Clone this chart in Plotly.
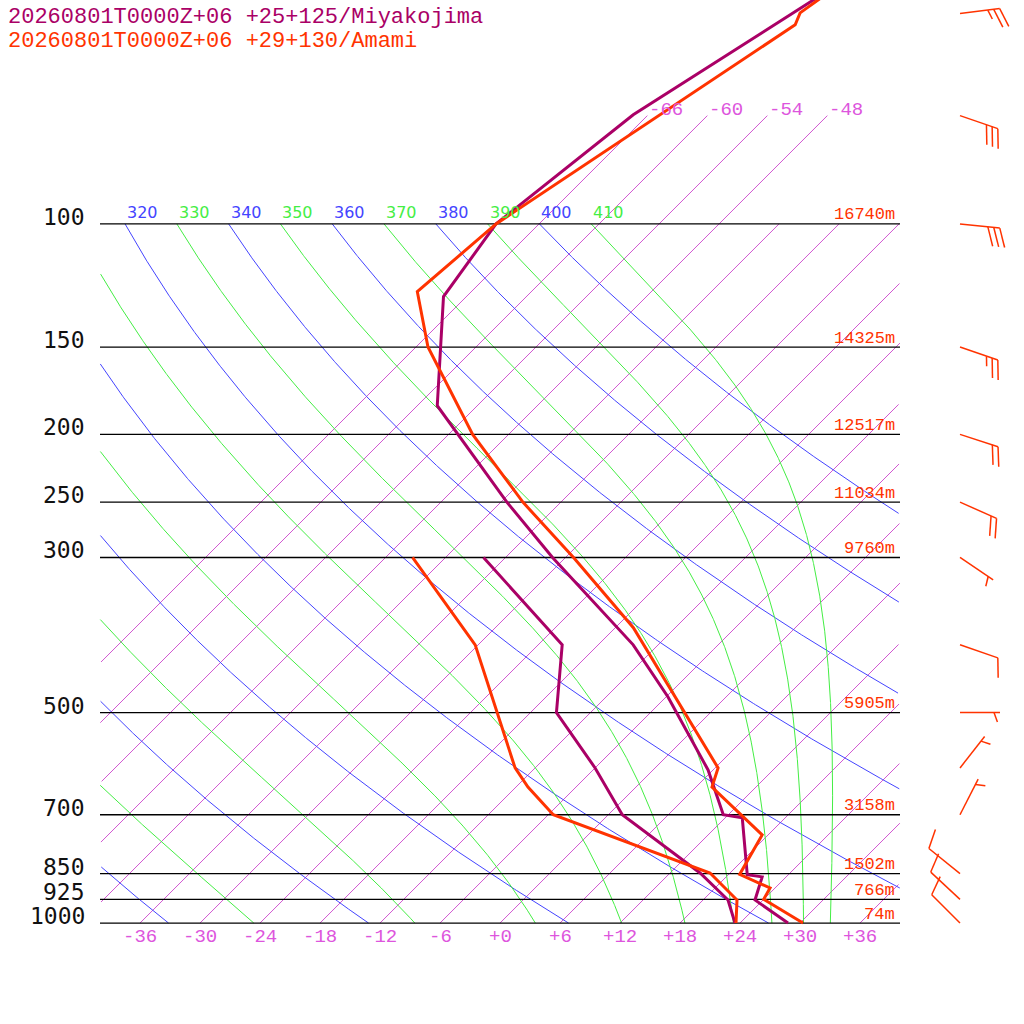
import numpy as np
import plotly.graph_objects as go

# ---------------- data ----------------
miya_T_p = [1000, 927, 859, 853, 707, 700, 604, 475, 400, 300, 250, 182, 127, 100, 69.8, 47.8, 46.3]
miya_T = [28.8, 23.2, 21.6, 19.9, 13.7, 11.5, 5.5, -5.8, -14.5, -31.3, -41.4, -58.0, -68.3, -70.3, -67.5, -61.0, -60.4]
miya_Td_p = [1000, 927, 848, 700, 600, 500, 400, 300]
miya_Td = [23.5, 20.5, 15.0, 1.4, -6.0, -15.4, -21.6, -38.2]

amami_T_p = [1000, 925, 891, 852, 748, 700, 639, 600, 467, 378, 300, 250, 200, 150, 125, 100, 51.9, 49.9, 46.3]
amami_T = [30.3, 24.0, 23.5, 19.1, 17.4, 13.3, 7.6, 6.3, -5.9, -16.2, -29.2, -39.8, -51.6, -64.8, -71.4, -70.3, -60.3, -61.0, -60.1]
amami_Td_p = [1000, 927, 848, 700, 639, 600, 400, 300]
amami_Td = [23.6, 21.4, 16.0, -5.5, -10.8, -14.0, -30.3, -45.3]

std_levels = [100, 150, 200, 250, 300, 500, 700, 850, 925, 1000]
heights = ["16740m", "14325m", "12517m", "11034m", "9760m", "5905m", "3158m", "1502m", "766m", "74m"]

wind_p = [50, 70, 100, 150, 200, 250, 300, 400, 500, 600, 700, 850, 925, 1000]
wind_dir = [83, 109, 96, 109, 108, 114, 124, 109, 90, 38, 27, 309, 313, 315]
wind_spd = [25, 30, 30, 25, 20, 20, 5, 10, 5, 5, 5, 10, 10, 10]

temp_ticks = [-36, -30, -24, -18, -12, -6, 0, 6, 12, 18, 24, 30, 36]
iso_top_labels = [-66, -60, -54, -48]
dry_thetas = list(range(200, 401, 20))
moist_thetas = list(range(230, 411, 20))

title1 = "20260801T0000Z+06 +25+125/Miyakojima"
title2 = "20260801T0000Z+06 +29+130/Amami"

PURPLE = "#aa0066"
ORANGE = "#ff3300"
MAG = "#cc44cc"
BLUE = "#4444ff"
GREEN = "#44ee44"
SK = 30.36
XL, XR = -40.0, 40.0

def skx(T, p):
    return np.asarray(T, float) + SK * np.log(1000.0 / np.asarray(p, float))

def clipped(T, p):
    x = skx(T, p)
    x = np.where((x >= XL - 1e-9) & (x <= XR + 1e-9), x, np.nan)
    return x

fig = go.Figure()

def add_line(x, y, color, width):
    fig.add_trace(go.Scatter(x=list(x), y=list(y), mode="lines", line=dict(color=color, width=width),
                             hoverinfo="skip", showlegend=False, connectgaps=False))

# isotherms
for T in range(-66, 43, 6):
    ptop = 70.0 if T <= -48 else 100.0
    ps_i = np.exp(np.linspace(np.log(ptop), np.log(1000), 400))
    add_line(clipped(np.full_like(ps_i, T), ps_i), ps_i, MAG, 0.9)

# dry adiabats
ps = np.exp(np.linspace(np.log(100), np.log(1000), 600))
for th in dry_thetas:
    T = th * (ps / 1000.0) ** 0.2857 - 273.15
    add_line(clipped(T, ps), ps, BLUE, 1)

# moist adiabats
def es(Tc):
    return 6.112 * np.exp(17.67 * Tc / (Tc + 243.5))

def dTdlnp(T, p):
    Rd, cp, Lv, eps = 287.04, 1005.7, 2.501e6, 0.622
    e = es(T - 273.15)
    rs = eps * e / (p - e)
    return (Rd * T + Lv * rs) / (cp + Lv * Lv * rs * eps / (Rd * T * T))

for th in moist_thetas:
    T = th * 0.1 ** 0.2857
    lp = np.log(ps)
    Ts = [T]
    for i in range(1, len(lp)):
        h = lp[i] - lp[i - 1]
        pm = np.exp(lp[i - 1] + 0.5 * h)
        k1 = dTdlnp(T, ps[i - 1])
        k2 = dTdlnp(T + 0.5 * h * k1, pm)
        k3 = dTdlnp(T + 0.5 * h * k2, pm)
        k4 = dTdlnp(T + h * k3, ps[i])
        T = T + h * (k1 + 2 * k2 + 2 * k3 + k4) / 6
        Ts.append(T)
    Ts = np.array(Ts) - 273.15
    add_line(clipped(Ts, ps), ps, GREEN, 1)

# pressure lines
for p in std_levels:
    add_line([XL, XR], [p, p], "black", 1.3)

# profiles
add_line(skx(miya_Td, miya_Td_p), miya_Td_p, PURPLE, 3)
add_line(skx(amami_Td, amami_Td_p), amami_Td_p, ORANGE, 3)
add_line(skx(miya_T, miya_T_p), miya_T_p, PURPLE, 3)
add_line(skx(amami_T, amami_T_p), amami_T_p, ORANGE, 3)

# wind barbs
bx, by = [], []
XB = 46.0
for p0, d, s in zip(wind_p, wind_dir, wind_spd):
    ux, uy = np.sin(np.radians(d)), -np.cos(np.radians(d))
    a = np.radians(70)
    fx, fy = ux * np.cos(a) - uy * np.sin(a), ux * np.sin(a) + uy * np.cos(a)
    L = 40.0
    segs = [((0, 0), (ux * L, uy * L))]
    full, half = s // 10, (s % 10) // 5
    pos = 1 if (full == 0 and half) else 0
    for i in range(full):
        ox, oy = ux * (L - 6 * pos), uy * (L - 6 * pos)
        segs.append(((ox, oy), (ox + fx * 20, oy + fy * 20)))
        pos += 1
    for i in range(half):
        ox, oy = ux * (L - 6 * pos), uy * (L - 6 * pos)
        segs.append(((ox, oy), (ox + fx * 10, oy + fy * 10)))
        pos += 1
    for (x0, y0), (x1, y1) in segs:
        bx += [XB + x0 / 10, XB + x1 / 10, None]
        by += [p0 * np.exp(y0 / 303.6), p0 * np.exp(y1 / 303.6), None]
add_line(bx, by, ORANGE, 1.5)

ann = []
MONO = "Liberation Mono"
for p in std_levels:
    ann.append(dict(x=-41.3, y=np.log10(p), text=str(p), showarrow=False, xanchor="right", yanchor="middle",
                    yshift=7, font=dict(family="DejaVu Sans Mono", size=23, color="#111111")))
for p, h in zip(std_levels, heights):
    ann.append(dict(x=39.7, y=np.log10(p), text=h, showarrow=False, xanchor="right", yanchor="middle",
                    yshift=9, font=dict(family=MONO, size=17, color=ORANGE)))
for t in temp_ticks:
    lab = ("+" if t >= 0 else "") + str(t)
    ann.append(dict(x=t, y=np.log10(1047), text=lab, showarrow=False, xanchor="center", yanchor="middle",
                    font=dict(family=MONO, size=19, color="#dd55dd")))
for t in iso_top_labels:
    ann.append(dict(x=float(skx(t, 70)), y=np.log10(70), text=str(t), showarrow=False, xanchor="left",
                    yanchor="middle", yshift=6, font=dict(family=MONO, size=19, color="#dd55dd")))
for th in range(320, 411, 10):
    xt = float(skx(th * 0.1 ** 0.2857 - 273.15, 100))
    col = BLUE if th % 20 == 0 else GREEN
    ann.append(dict(x=xt, y=2, text=str(th), showarrow=False, xanchor="left", yanchor="middle",
                    yshift=11, font=dict(family="DejaVu Sans", size=16, color=col)))
ann.append(dict(xref="paper", yref="paper", x=6 / 1024, y=1 - 17 / 1024, text=title1, showarrow=False,
                xanchor="left", yanchor="middle", font=dict(family=MONO, size=22, color=PURPLE)))
ann.append(dict(xref="paper", yref="paper", x=6 / 1024, y=1 - 41 / 1024, text=title2, showarrow=False,
                xanchor="left", yanchor="middle", font=dict(family=MONO, size=22, color=ORANGE)))

fig.update_layout(
    width=1024, height=1024, autosize=False, margin=dict(l=0, r=0, t=0, b=0),
    plot_bgcolor="white", paper_bgcolor="white", showlegend=False, annotations=ann,
    xaxis=dict(range=[-50, 52.4], visible=False, showgrid=False, zeroline=False),
    yaxis=dict(type="log", range=[np.log10(1394.5), np.log10(47.83)], visible=False, showgrid=False, zeroline=False),
)
fig.write_html("out.html", config={"displayModeBar": False})
with open("out.html", encoding="utf-8") as f:
    html = f.read()
html = html.replace("<body>", '<body style="margin:0;padding:0;overflow:hidden">', 1)
with open("out.html", "w", encoding="utf-8") as f:
    f.write(html)
